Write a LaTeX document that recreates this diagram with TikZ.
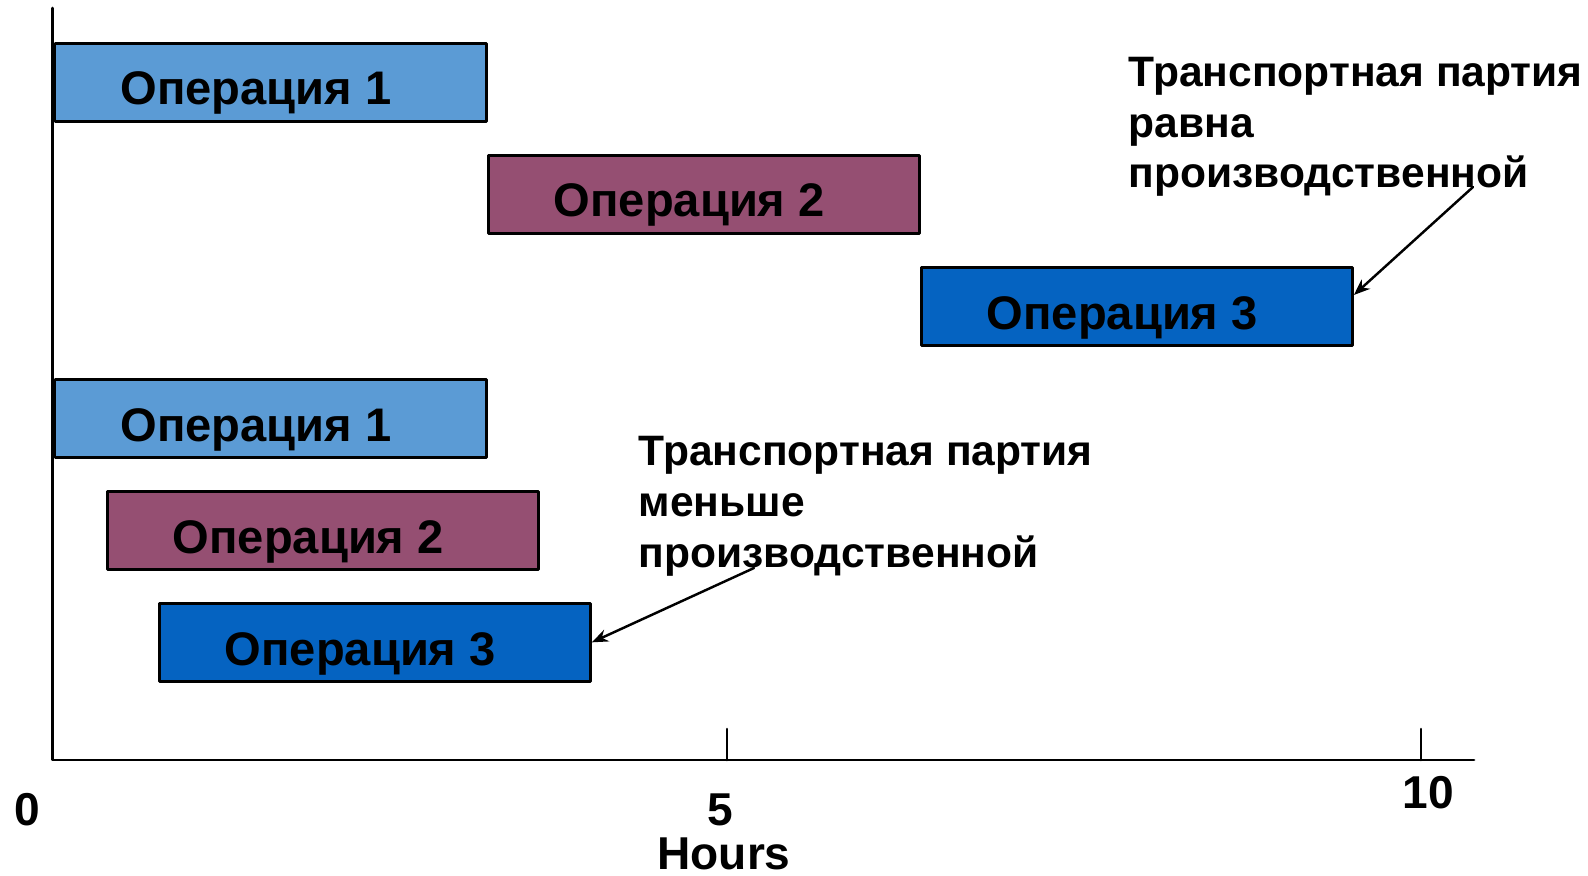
\documentclass[tikz,border=0pt]{standalone}
\usepackage{fontspec}
\setmainfont{Liberation Sans}
\usetikzlibrary{calc,arrows.meta}
\definecolor{opone}{HTML}{5B9BD5}
\definecolor{optwo}{HTML}{954F72}
\definecolor{opthree}{HTML}{0563C1}
\tikzset{
	opbox/.style={draw=black,line width=0.75pt,minimum width=4.31cm,minimum height=0.78cm,inner sep=0pt,anchor=north west},
	optext/.style={font=\fontsize{13.4}{16}\selectfont\bfseries,anchor=base west,inner sep=0pt},
	note/.style={font=\fontsize{12.1}{14.4}\selectfont\bfseries,align=left,anchor=base west,inner sep=0pt},
	axlabel/.style={font=\fontsize{13.1}{15}\selectfont\bfseries,inner sep=0pt}
}
\begin{document}
\begin{tikzpicture}[line cap=round,line join=round,>={Stealth[length=4.6pt,width=3.6pt]},x=0.01cm,y=-0.01cm]
	\useasboundingbox (0,0) rectangle (1588,876);
	% axes
	\draw [line width=0.75pt] (52.7,8) -- (52.7,760) -- (1474,760);
	\draw [line width=0.75pt] (727,729) -- (727,760);
	\draw [line width=0.75pt] (1421,729) -- (1421,760);
	\node[axlabel] (l0) at (27,810) {0};
	\node[axlabel] (l5) at (720,810) {5};
	\node[axlabel] (l10) at (1428,793) {10};
	\node[axlabel] (hours) at (724,854) {Hours};
	% batch = production lot
	\node[opbox,fill=opone] (o1a) at (53.7,42) {};
	\node[opbox,fill=optwo] (o2a) at (487,154) {};
	\node[opbox,fill=opthree] (o3a) at (920,266) {};
	\node[optext] (t1a) at ($(o1a.north west)+(66,63)$) {Операция 1};
	\node[optext] (t2a) at ($(o2a.north west)+(66,63)$) {Операция 2};
	\node[optext] (t3a) at ($(o3a.north west)+(66,63)$) {Операция 3};
	% batch < production lot
	\node[opbox,fill=opone] (o1b) at (53.7,378) {};
	\node[opbox,fill=optwo] (o2b) at (106,490) {};
	\node[opbox,fill=opthree] (o3b) at (158,602) {};
	\node[optext] (t1b) at ($(o1b.north west)+(66,63)$) {Операция 1};
	\node[optext] (t2b) at ($(o2b.north west)+(66,63)$) {Операция 2};
	\node[optext] (t3b) at ($(o3b.north west)+(66,63)$) {Операция 3};
	% notes (base = last line)
	\node[note] (n1) at (1128,188) {Транспортная партия\\равна\\производственной};
	\node[note] (n2) at (638,567) {Транспортная партия\\меньше\\производственной};
	\coordinate (s1) at (1473,187);
	\coordinate (s2) at (754,568);
	\draw [->,line width=0.7pt] (s1) -- (o3a.3);
	\draw [->,line width=0.7pt] (s2) -- (o3b.east);
\end{tikzpicture}
\end{document}
